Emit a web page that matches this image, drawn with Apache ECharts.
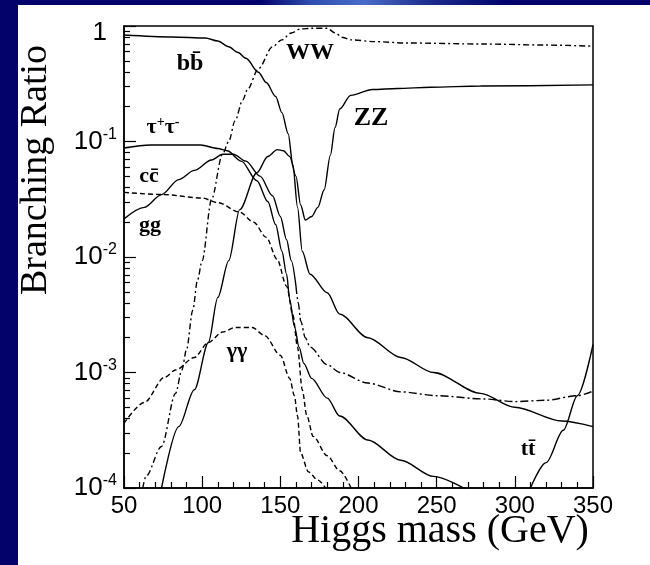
<!DOCTYPE html>
<html>
<head>
<meta charset="utf-8">
<script src="https://cdn.jsdelivr.net/npm/echarts@6/dist/echarts.min.js"></script>
<style>
  html, body { margin: 0; padding: 0; }
  body { width: 650px; height: 565px; background: #02026a; position: relative; overflow: hidden; }
  .topband { position: absolute; left: 0; top: 0; width: 650px; height: 5px;
    background: linear-gradient(90deg, #02026a 0%, #02026a 40%, #2f4fb0 48%, #4a6cc8 56%, #1c2d8c 66%, #02026a 78%); }
  .panel { position: absolute; left: 18px; top: 5px; right: 0; bottom: 0; background: #fff; }
  #chart { position: absolute; left: 0; top: 0; width: 650px; height: 565px; }
</style>
</head>
<body>
<div class="topband"></div>
<div class="panel"></div>
<div id="chart"></div>
<script>
// Higgs mass (GeV) vs branching ratio
const bb = [[50, 0.836], [81, 0.804], [102, 0.787], [110, 0.741], [117, 0.661], [123, 0.589], [128, 0.525],
  [136, 0.398], [141, 0.324], [147, 0.245], [151, 0.178], [155, 0.117], [158, 0.063], [161, 0.027],
  [164, 0.0112], [169, 0.0071], [180, 0.0049], [188, 0.0032], [206, 0.0020], [227, 0.00135],
  [248, 0.0010], [278, 6.6e-4], [300, 5.0e-4], [330, 3.8e-4], [350, 3.4e-4]]
const tautau = [[50, 0.0879], [67, 0.0933], [99, 0.0933], [110, 0.087], [116, 0.0832], [125, 0.0676],
  [135, 0.0457], [142, 0.0302], [147, 0.0191], [151, 0.0112], [154, 0.0071], [156, 0.0043], [159, 0.0025],
  [162, 0.00166], [165, 0.0012], [170, 8.9e-4], [180, 6.0e-4], [188, 4.2e-4], [206, 2.6e-4],
  [227, 1.74e-4], [248, 1.26e-4], [270, 9.5e-5]]
const ggLow = [[50, 0.0214], [63, 0.0269], [74, 0.0347], [85, 0.0468], [95, 0.0562], [106, 0.0692],
  [113, 0.0776], [120, 0.0776], [128, 0.0676], [137, 0.0501], [145, 0.0339], [150, 0.0224],
  [154, 0.0141], [157, 0.0093], [160, 0.0056]]
const ggHigh = [[160, 0.0056], [161.5, 0.0040], [163, 0.0028], [166, 0.0020], [169, 0.00166], [180, 0.00117],
  [188, 0.0010], [206, 8.1e-4], [227, 6.8e-4], [250, 6.3e-4], [280, 5.9e-4], [300, 5.6e-4],
  [320, 5.75e-4], [340, 6.3e-4], [350, 6.9e-4]]
const cc = [[50, 0.0363], [75, 0.0347], [100, 0.0324], [110, 0.0295], [124, 0.0245], [133, 0.020],
  [141, 0.0148], [148, 0.0095], [154, 0.0056], [158, 0.00316], [161, 0.00166], [164, 7.1e-4],
  [167, 4.2e-4], [171, 2.8e-4], [180, 1.9e-4], [188, 1.41e-4], [196, 9.5e-5]]
const gamgam = [[50, 3.63e-4], [63, 5.5e-4], [76, 9.1e-4], [83, 1.05e-3], [95, 1.35e-3], [104, 1.82e-3],
  [113, 2.24e-3], [121, 2.45e-3], [132, 2.45e-3], [140, 2.09e-3], [150, 1.41e-3], [156, 8.9e-4],
  [159, 6.3e-4], [161, 4.2e-4], [163, 2.0e-4], [168, 1.38e-4], [174, 1.17e-4], [180, 9.5e-5]]
const ww = [[62, 1.0e-4], [64, 1.26e-4], [74, 2.29e-4], [83, 6.6e-4], [87, 1.05e-3], [90, 1.58e-3],
  [94, 3.47e-3], [97, 6.3e-3], [100, 9.3e-3], [106, 0.0316], [113, 0.0776], [117, 0.1], [121, 0.151],
  [126, 0.229], [129, 0.282], [136, 0.427], [145, 0.661], [151, 0.759], [157, 0.871], [163, 0.944],
  [170, 0.955], [180, 0.955], [185, 0.871], [190, 0.794], [195, 0.759], [210, 0.733], [230, 0.713],
  [280, 0.698], [320, 0.684], [350, 0.668]]
const zz = [[74, 1.0e-4], [85, 3.4e-4], [95, 7.1e-4], [104, 1.82e-3], [110, 4.47e-3], [117, 9.3e-3],
  [124, 0.0257], [135, 0.0537], [142, 0.0741], [148, 0.0851], [152, 0.0832], [156, 0.0741],
  [160, 0.0501], [163, 0.0282], [166, 0.0209], [170, 0.0224], [174, 0.0269], [178, 0.038],
  [182, 0.0759], [185, 0.132], [188, 0.191], [195, 0.251], [209, 0.282], [225, 0.288], [246, 0.295],
  [278, 0.302], [350, 0.309]]
const tt = [[310, 1.0e-4], [320, 1.66e-4], [331, 3.16e-4], [340, 6.3e-4], [350, 1.74e-3]]

const xTicks = [50, 100, 150, 200, 250, 300, 350]
const yDecades = [1e-4, 1e-3, 1e-2, 1e-1, 1]

// minor log ticks 2..9 in each decade
const yMinor = []
yDecades.slice(0, 4).forEach(d => { for (let k = 2; k <= 9; k++) yMinor.push(k * d) })

const serif = '"Liberation Serif", "Times New Roman", serif'
const sans = '"Liberation Sans", Arial, sans-serif'

const chart = echarts.init(document.getElementById('chart'))

function curve(data, dash) {
  return {
    type: 'line', data, symbol: 'none', smooth: 0.3, smoothMonotone: 'x', clip: true, silent: true,
    lineStyle: { color: '#000', width: 1.4, type: dash || 'solid' },
  }
}

chart.setOption({
  animation: false,
  backgroundColor: 'transparent',
  grid: { left: 124, right: 57, top: 26, bottom: 77, show: true, borderColor: '#000', borderWidth: 1.5 },
  xAxis: {
    type: 'value', min: 50, max: 350, interval: 50,
    axisLine: { lineStyle: { color: '#000', width: 1.5 } },
    axisTick: { inside: true, length: 12, lineStyle: { color: '#000', width: 1.2 } },
    minorTick: { show: true, splitNumber: 5, length: 6, lineStyle: { color: '#000', width: 1.2 } },
    splitLine: { show: false },
    axisLabel: { color: '#000', fontFamily: sans, fontSize: 24, margin: 6, customValues: xTicks },
  },
  yAxis: [
    {
      type: 'log', logBase: 10, min: 1e-4, max: 1,
      axisLine: { lineStyle: { color: '#000', width: 1.5 } },
      axisTick: { inside: true, length: 12, customValues: yDecades, lineStyle: { color: '#000', width: 1.2 } },
      splitLine: { show: false },
      axisLabel: {
        customValues: yDecades, margin: 7, color: '#000',
        formatter: v => v >= 1 ? '{one|1}' : '{b|10}{s|' + Math.round(Math.log10(v)) + '}',
        rich: {
          b: { fontFamily: sans, fontSize: 26, lineHeight: 30, color: '#000' },
          s: { fontFamily: sans, fontSize: 16, lineHeight: 14, verticalAlign: 'top', color: '#000' },
          one: { fontFamily: sans, fontSize: 26, padding: [14, 10, 0, 0], color: '#000' },
        },
      },
    },
    {
      type: 'log', logBase: 10, min: 1e-4, max: 1, position: 'left',
      axisLine: { show: false },
      axisTick: { inside: true, length: 6, customValues: yMinor, lineStyle: { color: '#000', width: 1.2 } },
      axisLabel: { show: false },
      splitLine: { show: false },
    },
  ],
  series: [
    curve(bb), curve(tautau), curve(ggLow), curve(ggHigh, [8, 3, 2, 3]),
    curve(cc, [5, 3]), curve(gamgam, [5, 3]), curve(ww, [6, 3, 2, 3]), curve(zz), curve(tt),
  ],
  graphic: [
    { type: 'text', x: 190, y: 64, style: { text: 'bb\u0304', font: 'bold 24px ' + serif, fill: '#000', align: 'center', verticalAlign: 'middle' } },
    {
      type: 'text', x: 163, y: 127,
      style: {
        text: '{a|τ}{s|+}{a|τ}{s|-}', align: 'center', verticalAlign: 'middle',
        rich: {
          a: { font: 'bold 22px ' + serif, fill: '#000', lineHeight: 24 },
          s: { font: 'bold 14px ' + serif, fill: '#000', lineHeight: 12, verticalAlign: 'top' },
        },
      },
    },
    { type: 'text', x: 310, y: 53, style: { text: 'WW', font: 'bold 24px ' + serif, fill: '#000', align: 'center', verticalAlign: 'middle' } },
    { type: 'text', x: 371, y: 118, style: { text: 'ZZ', font: 'bold 26px ' + serif, fill: '#000', align: 'center', verticalAlign: 'middle' } },
    { type: 'text', x: 149, y: 176, style: { text: 'cc\u0304', font: 'bold 22px ' + serif, fill: '#000', align: 'center', verticalAlign: 'middle' } },
    { type: 'text', x: 150, y: 225, style: { text: 'gg', font: 'bold 22px ' + serif, fill: '#000', align: 'center', verticalAlign: 'middle' } },
    { type: 'text', x: 237, y: 351, style: { text: 'γγ', font: 'bold 22px ' + serif, fill: '#000', align: 'center', verticalAlign: 'middle' } },
    { type: 'text', x: 528, y: 449, style: { text: 'tt\u0304', font: 'bold 22px ' + serif, fill: '#000', align: 'center', verticalAlign: 'middle' } },
    { type: 'text', x: 36, y: 170, rotation: Math.PI / 2, style: { text: 'Branching Ratio', font: '38px ' + serif, fill: '#000', align: 'center', verticalAlign: 'middle' } },
    { type: 'text', x: 440, y: 531, style: { text: 'Higgs mass (GeV)', font: '40px ' + serif, fill: '#000', align: 'center', verticalAlign: 'middle' } },
  ],
})
</script>
</body>
</html>
